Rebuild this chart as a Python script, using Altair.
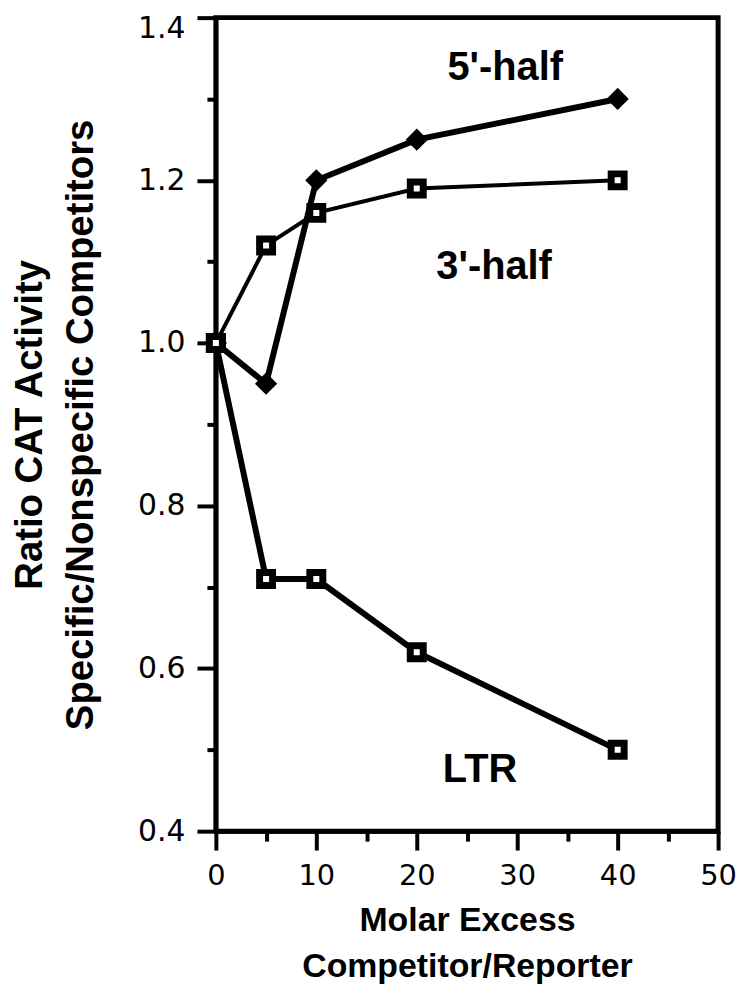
import altair as alt
import pandas as pd

# ---- data ----
molar_excess = [0, 5, 10, 20, 40]
five_half = [1.0, 0.95, 1.2, 1.25, 1.3]
three_half = [1.0, 1.12, 1.16, 1.19, 1.2]
ltr = [1.0, 0.71, 0.71, 0.62, 0.5]

series_names = ["5'-half", "3'-half", "LTR"]
label_x = [28.8, 27.7, 26.3]
label_y = [1.338, 1.094, 0.475]

x_tick_values = [0, 5, 10, 15, 20, 25, 30, 35, 40, 45, 50]
y_tick_values = [0.4, 0.5, 0.6, 0.7, 0.8, 0.9, 1.0, 1.1, 1.2, 1.3, 1.4]

rows = []
for name, vals in zip(series_names, [five_half, three_half, ltr]):
    for xv, yv in zip(molar_excess, vals):
        rows.append({"series": name, "x": xv, "y": yv})
df = pd.DataFrame(rows)
labels_df = pd.DataFrame({"text": series_names, "x": label_x, "y": label_y})

TICK_FONT = "DejaVu Sans"
TITLE_FONT = "Liberation Sans"

x_scale = alt.Scale(domain=[0, 50], nice=False, zero=False)
y_scale = alt.Scale(domain=[0.4, 1.4], nice=False, zero=False)

x_axis = alt.Axis(
    values=x_tick_values,
    labelExpr="datum.value % 10 == 0 ? datum.label : ''",
    tickSize={"condition": {"test": "datum.value % 10 == 0", "value": 19}, "value": 10},
    tickWidth=4,
    tickColor="black",
    domainColor="black",
    domainWidth=4,
    labelFont=TICK_FONT,
    labelFontSize=29,
    labelColor="black",
    labelPadding=12,
    labelFlush=False,
    grid=False,
    title=["Molar Excess", "Competitor/Reporter"],
    titleFont=TITLE_FONT,
    titleFontSize=34,
    titleFontWeight="bold",
    titleColor="black",
    titleLineHeight=46,
    titleBaseline="top",
    titleY=73,
)

y_axis = alt.Axis(
    values=y_tick_values,
    format=".1f",
    labelExpr="round(datum.value * 10) % 2 == 0 ? datum.label : ''",
    tickSize={"condition": {"test": "round(datum.value * 10) % 2 == 0", "value": 19}, "value": 9},
    labelOffset={"condition": {"test": "datum.value > 1.35", "value": 11}, "value": 0},
    tickWidth=4,
    tickColor="black",
    domainColor="black",
    domainWidth=4,
    labelFont=TICK_FONT,
    labelFontSize=30,
    labelColor="black",
    labelPadding=12,
    labelFlush=False,
    grid=False,
    title=["Ratio CAT Activity", "Specific/Nonspecific Competitors"],
    titleFont=TITLE_FONT,
    titleFontSize=38.5,
    titleFontWeight="bold",
    titleColor="black",
    titleLineHeight=51,
    titleAngle=270,
    titleBaseline="middle",
    titleAlign="center",
    titleX=-187,
    titleY=409,
)

base = alt.Chart(df)
enc = dict(
    x=alt.X("x:Q", scale=x_scale, axis=x_axis),
    y=alt.Y("y:Q", scale=y_scale, axis=y_axis),
)

line_5 = base.transform_filter(alt.datum.series == "5'-half").mark_line(
    color="black", strokeWidth=6).encode(**enc)
line_3 = base.transform_filter(alt.datum.series == "3'-half").mark_line(
    color="black", strokeWidth=4).encode(**enc)
line_l = base.transform_filter(alt.datum.series == "LTR").mark_line(
    color="black", strokeWidth=6).encode(**enc)

diamonds = base.transform_filter(alt.datum.series == "5'-half").mark_point(
    shape="diamond", filled=True, color="black", size=500, opacity=1
).encode(x="x:Q", y="y:Q")

squares = base.transform_filter(alt.datum.series != "5'-half").mark_point(
    shape="square", filled=True, fill="white", stroke="black", strokeWidth=7,
    size=170, opacity=1
).encode(x="x:Q", y="y:Q")

texts = alt.Chart(labels_df).mark_text(
    font=TITLE_FONT, fontSize=40, fontWeight="bold", color="black",
    align="center", baseline="middle"
).encode(x="x:Q", y="y:Q", text="text:N")

chart = (
    alt.layer(line_5, line_3, line_l, diamonds, squares, texts)
    .properties(
        width=505,
        height=818,
        autosize=alt.AutoSizeParams(type="none"),
        padding={"left": 209, "top": 7, "right": 20, "bottom": 155},
    )
    .configure(background="white")
    .configure_view(stroke="black", strokeWidth=5)
)

chart.save("out.html", embed_options={"renderer": "svg", "actions": False})
